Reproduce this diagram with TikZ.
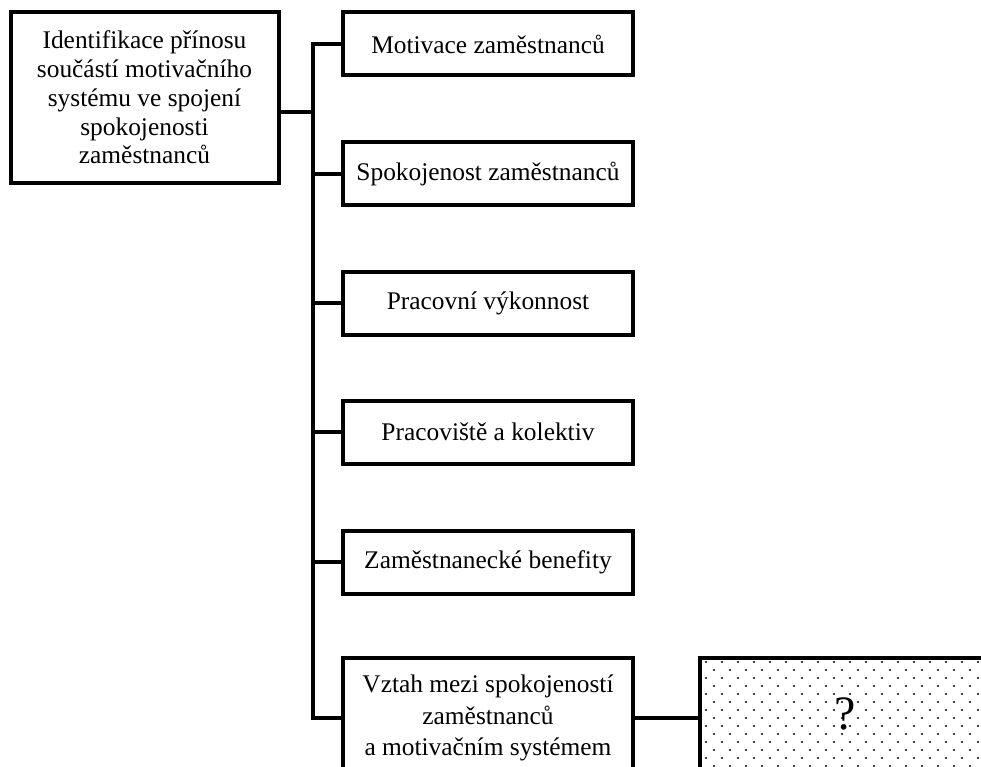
\documentclass[tikz,border=0pt]{standalone}
\usepackage{fontspec}
\setmainfont{Liberation Serif}
\usetikzlibrary{positioning}

\tikzset{
  box/.style={draw,line width=4pt,align=center,inner sep=2pt,
    font=\fontsize{25.4}{28.7}\selectfont},
  topicbox/.style={box,minimum width=290pt,minimum height=63pt},
  link/.style={line width=4pt}
}

\begin{document}
\begin{tikzpicture}[x=1pt,y=-1pt]
\useasboundingbox (0,0) rectangle (981,767);
\clip (0,0) rectangle (981,767);

  \node[box,minimum width=268pt,minimum height=171pt] (root) at (144.5,97.5)
    {Identifikace přínosu\\součástí motivačního\\systému ve spojení\\spokojenosti\\zaměstnanců};

  \node[topicbox] (motivace) at (488,44) {Motivace zaměstnanců};
  \node[topicbox] (spokojenost) at (488,174) {Spokojenost zaměstnanců};
  \node[topicbox] (vykonnost) at (488,303) {Pracovní výkonnost};
  \node[topicbox] (kolektiv) at (488,432) {Pracoviště a kolektiv};
  \node[topicbox] (benefity) at (488,562) {Zaměstnanecké benefity};
  \node[topicbox,minimum height=120pt,font=\fontsize{25.4}{31.6}\selectfont] (vztah) at (488,718)
    {Vztah mezi spokojeností\\zaměstnanců\\a motivačním systémem};

  % tecky v nezname oblasti
  \foreach \r in {0,...,15}{
    \pgfmathsetmacro{\dy}{662+8*\r}
    \pgfmathsetmacro{\dx}{mod(\r,2)==0 ? 706 : 714}
    \foreach \c in {0,...,17}
      \fill ({\dx+16*\c},\dy) circle (1.1pt);
  }
  \draw[line width=4pt] (700,658) rectangle (1010,800);
  \node[font=\fontsize{48}{50}\selectfont] (otaznik) at (845,714) {?};
  \coordinate (nezname) at (700,716);

  \coordinate (trunk) at (313,0);
  \coordinate (rootout) at ([yshift=-14.5pt]root.east);
  \draw[link] (rootout) -- (trunk |- rootout);
  \draw[link] (motivace.west) -| (trunk |- vztah.west) -- (vztah.west);
  \foreach \n in {spokojenost,vykonnost,kolektiv,benefity}
    \draw[link] (trunk |- \n.west) -- (\n.west);
  \draw[link] (vztah.east) -- (vztah.east -| nezname);

\end{tikzpicture}
\end{document}
